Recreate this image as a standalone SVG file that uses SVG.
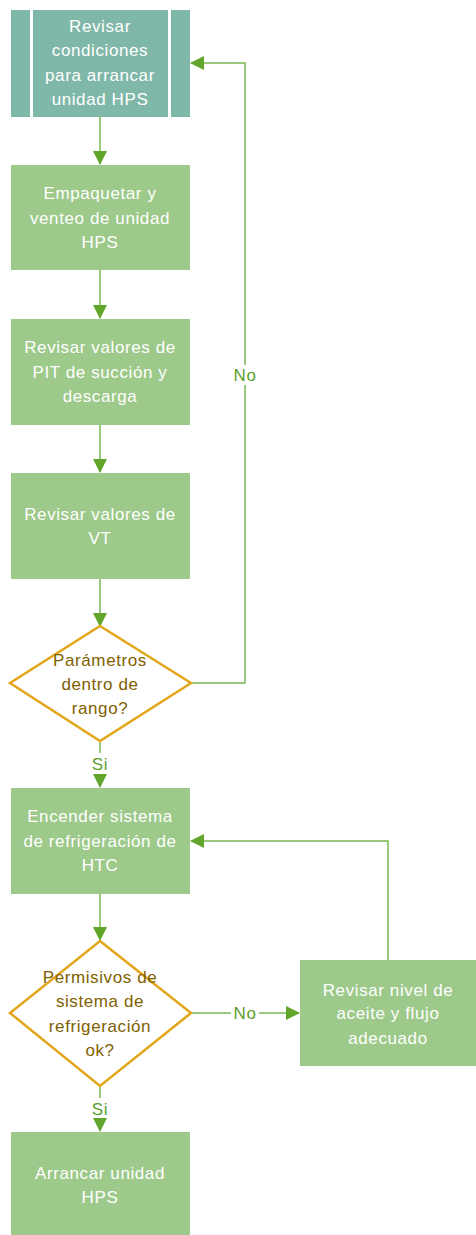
<svg xmlns="http://www.w3.org/2000/svg" width="476" height="1235" viewBox="0 0 476 1235">
<defs>
<style>
.box{fill:#9dc98a;}
.pp{fill:#7fb8a8;}
.dia{fill:#ffffff;stroke:#e2a618;stroke-width:2.5;}
.t{font-family:"Liberation Sans",Arial,sans-serif;font-size:17px;letter-spacing:0.6px;fill:#ffffff;text-anchor:middle;}
.td{font-family:"Liberation Sans",Arial,sans-serif;font-size:17px;letter-spacing:0.6px;fill:#7f6000;text-anchor:middle;}
.tl{font-family:"Liberation Sans",Arial,sans-serif;font-size:17px;letter-spacing:0.6px;fill:#5a9e2c;text-anchor:middle;}
.ln{fill:none;stroke:#79b650;stroke-width:1.5;}
</style>
<marker id="ah" viewBox="0 0 14 14" refX="13" refY="7" markerWidth="14" markerHeight="14" markerUnits="userSpaceOnUse" orient="auto">
<path d="M0,0 L14,7 L0,14 Z" fill="#62a52b"/>
</marker>
</defs>
<g id="connectors">
<line class="ln" x1="100" y1="117" x2="100" y2="164" marker-end="url(#ah)"/>
<line class="ln" x1="100" y1="270" x2="100" y2="318" marker-end="url(#ah)"/>
<line class="ln" x1="100" y1="425" x2="100" y2="472" marker-end="url(#ah)"/>
<line class="ln" x1="100" y1="579" x2="100" y2="626" marker-end="url(#ah)"/>
<line class="ln" x1="100" y1="741" x2="100" y2="753"/>
<line class="ln" x1="100" y1="775" x2="100" y2="787" marker-end="url(#ah)"/>
<polyline class="ln" points="191,683 245,683 245,63 191,63" marker-end="url(#ah)"/>
<line class="ln" x1="100" y1="894" x2="100" y2="940" marker-end="url(#ah)"/>
<polyline class="ln" points="388,960 388,841 191,841" marker-end="url(#ah)"/>
<line class="ln" x1="191" y1="1013" x2="231" y2="1013"/>
<line class="ln" x1="259" y1="1013" x2="299" y2="1013" marker-end="url(#ah)"/>
<line class="ln" x1="100" y1="1086" x2="100" y2="1098"/>
<line class="ln" x1="100" y1="1120" x2="100" y2="1131" marker-end="url(#ah)"/>
<rect x="234" y="365" width="22" height="20" fill="#ffffff"/>
<text class="tl" x="245" y="381">No</text>
<text class="tl" x="100" y="770">Si</text>
<text class="tl" x="245" y="1019">No</text>
<text class="tl" x="100" y="1115">Si</text>
</g>
<g id="n1">
<rect class="pp" x="11" y="10" width="19" height="107"/>
<rect class="pp" x="33" y="10" width="135" height="107"/>
<rect class="pp" x="171" y="10" width="19" height="107"/>
<text class="t" x="100" y="32">Revisar</text>
<text class="t" x="100" y="56">condiciones</text>
<text class="t" x="100" y="81">para arrancar</text>
<text class="t" x="100" y="105">unidad HPS</text>
</g>
<g id="n2">
<rect class="box" x="11" y="165" width="179" height="105"/>
<text class="t" x="100" y="199">Empaquetar y</text>
<text class="t" x="100" y="224">venteo de unidad</text>
<text class="t" x="100" y="248">HPS</text>
</g>
<g id="n3">
<rect class="box" x="11" y="319" width="179" height="106"/>
<text class="t" x="100" y="353">Revisar valores de</text>
<text class="t" x="100" y="378">PIT de succión y</text>
<text class="t" x="100" y="402">descarga</text>
</g>
<g id="n4">
<rect class="box" x="11" y="473" width="179" height="106"/>
<text class="t" x="100" y="520">Revisar valores de</text>
<text class="t" x="100" y="544">VT</text>
</g>
<g id="n5">
<polygon class="dia" points="100,626 191,683 100,741 10,683"/>
<text class="td" x="100" y="666">Parámetros</text>
<text class="td" x="100" y="690">dentro de</text>
<text class="td" x="100" y="714">rango?</text>
</g>
<g id="n6">
<rect class="box" x="11" y="788" width="179" height="106"/>
<text class="t" x="100" y="822">Encender sistema</text>
<text class="t" x="100" y="847">de refrigeración de</text>
<text class="t" x="100" y="871">HTC</text>
</g>
<g id="n7">
<polygon class="dia" points="100,941 191,1013 100,1086 10,1013"/>
<text class="td" x="100" y="983">Permisivos de</text>
<text class="td" x="100" y="1007">sistema de</text>
<text class="td" x="100" y="1032">refrigeración</text>
<text class="td" x="100" y="1056">ok?</text>
</g>
<g id="n8">
<rect class="box" x="300" y="960" width="176" height="106"/>
<text class="t" x="388" y="996">Revisar nivel de</text>
<text class="t" x="388" y="1019">aceite y flujo</text>
<text class="t" x="388" y="1044">adecuado</text>
</g>
<g id="n9">
<rect class="box" x="11" y="1132" width="179" height="106"/>
<text class="t" x="100" y="1179">Arrancar unidad</text>
<text class="t" x="100" y="1203">HPS</text>
</g>
</svg>
